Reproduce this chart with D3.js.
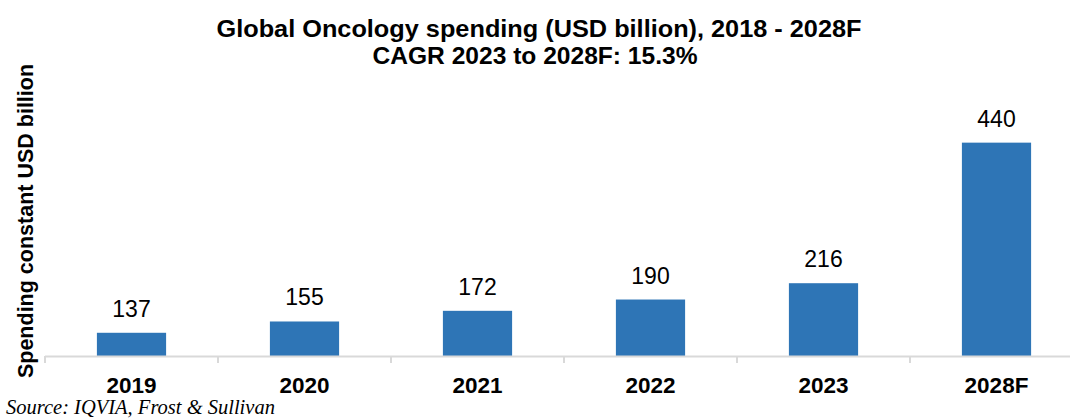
<!DOCTYPE html>
<html>
<head>
<meta charset="utf-8">
<script src="https://cdn.jsdelivr.net/npm/d3@7"></script>
<style>
  body { margin: 0; background: #fff; }
  svg { display: block; }
</style>
</head>
<body>
<div id="chart"></div>
<script>
(function(){
	"use strict";

	// data
	var years = ["2019", "2020", "2021", "2022", "2023", "2028F"];
	var spending = [137, 155, 172, 190, 216, 440];
	var titleLines = ["Global Oncology spending (USD billion), 2018 - 2028F", "CAGR 2023 to 2028F: 15.3%"];

	var width = 1070, height = 418;
	var left = 45, right = 1083, baseY = 356, topY = 105;

	var svg = d3.select("#chart").append("svg")
		.attr("width", width)
		.attr("height", height);

	var x = d3.scaleBand()
		.domain(years)
		.range([left, right])
		.paddingInner(0.6)
		.paddingOuter(0.3);

	//axis does not start at zero in the original
	var y = d3.scaleLinear()
		.domain([100, 500])
		.range([baseY, topY]);

	// title
	svg.selectAll("text.title")
		.data(titleLines)
		.enter()
		.append("text")
		.attr("class", "title")
		.attr("x", function(d, i){ return i == 0 ? 539 : 535; })
		.attr("y", function(d, i){ return 37 + i * 27; })
		.attr("text-anchor", "middle")
		.style("font-family", "Liberation Sans, Arial, sans-serif")
		.style("font-weight", "bold")
		.style("font-size", "24px")
		.attr("textLength", function(d, i){ return i == 0 ? 645 : 325; })
		.attr("lengthAdjust", "spacingAndGlyphs")
		.text(function(d){ return d; });

	// bars
	svg.selectAll("rect.bar")
		.data(spending)
		.enter()
		.append("rect")
		.attr("class", "bar")
		.attr("x", function(d, i){ return x(years[i]); })
		.attr("width", x.bandwidth())
		.attr("y", function(d){ return y(d); })
		.attr("height", function(d){ return baseY - y(d); })
		.attr("fill", "#2E75B6");

	// value labels
	svg.selectAll("text.value")
		.data(spending)
		.enter()
		.append("text")
		.attr("class", "value")
		.attr("x", function(d, i){ return x(years[i]) + x.bandwidth() / 2; })
		.attr("y", function(d){ return y(d) - 16; })
		.attr("text-anchor", "middle")
		.style("font-family", "Liberation Sans, Arial, sans-serif")
		.style("font-size", "23px")
		.text(function(d){ return d; });

	// bottom axis
	var xAxis = d3.axisBottom(x).tickSize(0);
	var gx = svg.append("g")
		.attr("transform", "translate(0," + baseY + ")")
		.call(xAxis);
	gx.select(".domain").remove();
	gx.selectAll("text")
		.attr("y", 37)
		.attr("dy", 0)
		.style("font-family", "Liberation Sans, Arial, sans-serif")
		.style("font-weight", "bold")
		.style("font-size", "22.5px")
		.attr("fill", "#000");

	svg.append("line")
		.attr("x1", left).attr("x2", right)
		.attr("y1", baseY + 0.5).attr("y2", baseY + 0.5)
		.attr("stroke", "#D9D9D9")
		.attr("stroke-width", 2);

	// tick marks sit between the categories
	var bounds = d3.range(years.length + 1).map(function(i){ return left + i * x.step(); });
	svg.selectAll("line.sep")
		.data(bounds)
		.enter()
		.append("line")
		.attr("class", "sep")
		.attr("x1", function(d){ return d; })
		.attr("x2", function(d){ return d; })
		.attr("y1", baseY)
		.attr("y2", baseY + 7)
		.attr("stroke", "#D9D9D9")
		.attr("stroke-width", 2);

	// y axis title
	svg.append("text")
		.attr("text-anchor", "middle")
		.attr("transform", "translate(33,221)rotate(-90)")
		.style("font-family", "Liberation Sans, Arial, sans-serif")
		.style("font-weight", "bold")
		.style("font-size", "21.5px")
		.text("Spending constant USD billion");

	// source
	svg.append("text")
		.attr("x", 6)
		.attr("y", 414)
		.style("font-family", "Liberation Serif, Times New Roman, serif")
		.style("font-style", "italic")
		.style("font-size", "20.5px")
		.text("Source: IQVIA, Frost & Sullivan");

})();
</script>
</body>
</html>
